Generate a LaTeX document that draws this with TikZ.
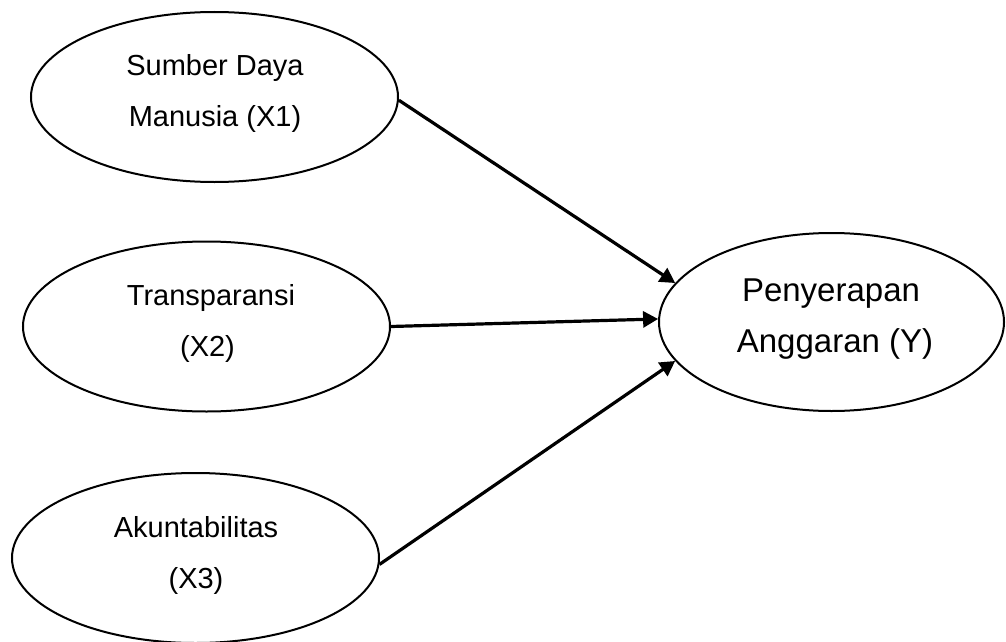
\documentclass[tikz,border=0pt]{standalone}
\usepackage{fontspec}
\setmainfont{Liberation Sans}
\usetikzlibrary{shapes.geometric,arrows.meta}
\tikzset{
  var/.style={draw=black, line width=2pt, ellipse, inner sep=0pt,
    minimum width=367pt, minimum height=170pt},
  dep/.style={var, minimum width=345pt, minimum height=178pt},
  lbl/.style={anchor=base, inner sep=0pt, font=\fontsize{29}{34}\selectfont},
  lbly/.style={anchor=base, inner sep=0pt, font=\fontsize{33}{38}\selectfont},
  link/.style={line width=3.2pt, -{Triangle[length=15pt,width=16pt]}, shorten >=0pt}
}
\begin{document}
\begin{tikzpicture}[x=1pt,y=-1pt]
\useasboundingbox (0,0) rectangle (1006,642);
\node[var] (x1) at (214.5,97) {};
\node[var] (x2) at (206.5,326.5) {};
\node[var] (x3) at (195.5,558) {};
\node[dep] (y) at (831.5,322) {};

\node[lbl] (x1a) at (215,75) {Sumber Daya};
\node[lbl] (x1b) at (215,126) {Manusia (X1)};
\node[lbl] (x2a) at (211,305) {Transparansi};
\node[lbl] (x2b) at (207.5,356) {(X2)};
\node[lbl] (x3a) at (196,537) {Akuntabilitas};
\node[lbl] (x3b) at (196,588) {(X3)};
\node[lbly] (ya) at (831,301) {Penyerapan};
\node[lbly] (yb) at (835,352) {Anggaran (Y)};

\draw[link] (x1.-1.5) -- (y.166);
\draw[link] (x2.-0.5) -- (y.179.3);
\draw[link] (x3.-2.2) -- (y.194.2);
\end{tikzpicture}
\end{document}
